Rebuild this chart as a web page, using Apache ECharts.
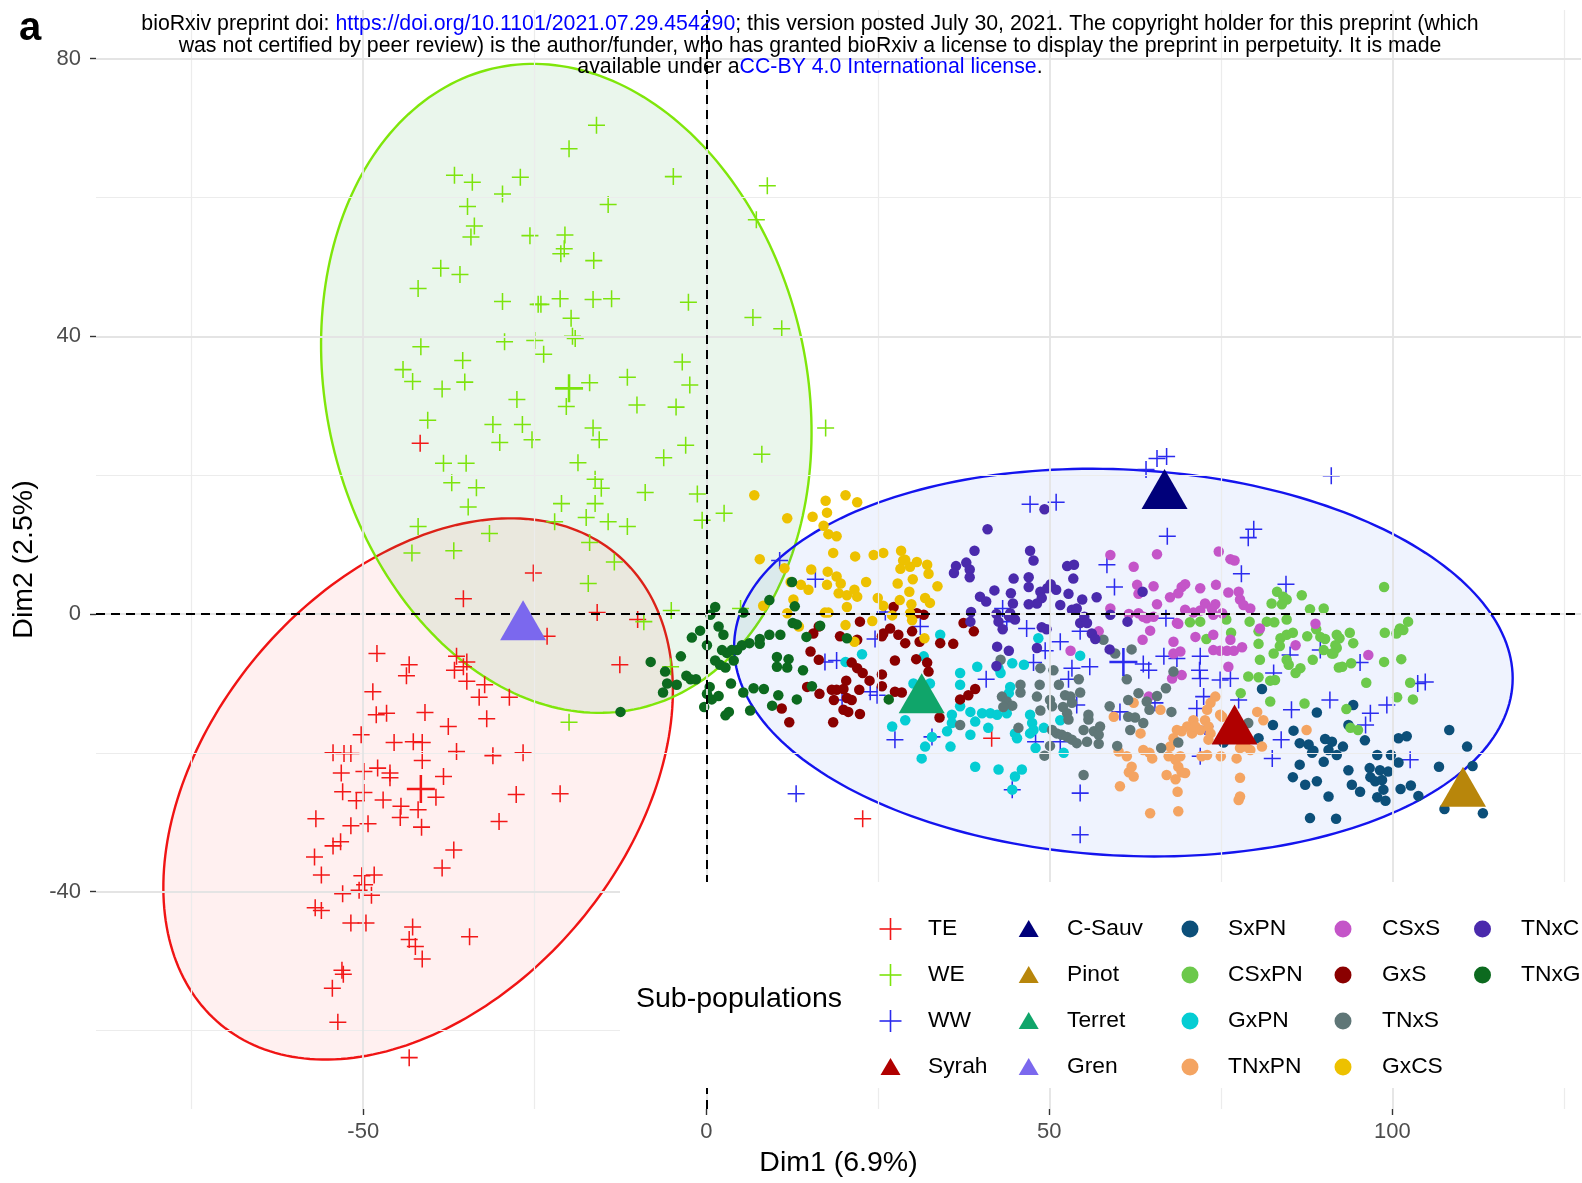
<!DOCTYPE html>
<html>
<head>
<meta charset="utf-8">
<title>PCA sub-populations</title>
<script src="https://cdn.jsdelivr.net/npm/echarts@6/dist/echarts.min.js"></script>
<style>
  html, body { margin: 0; padding: 0; background: #ffffff; }
  #chart { width: 1582px; height: 1183px; }
</style>
</head>
<body>
<div id="chart"></div>
<script>
// ---- tick values ----
const xTicks = [-50, 0, 50, 100];
const yTicks = [-40, 0, 40, 80];
const xGridMajor = [-50, 0, 50, 100];
const xGridMinor = [-75, -25, 25, 75, 125];
const yGridMajor = [-40, 0, 40, 80];
const yGridMinor = [-60, -20, 20, 60];

// ---- individuals: [Dim1, Dim2] ----
const TE = [[-41.7,24.6],[-25.2,5.9],[-35.4,2.2],[-15.9,0.2],[-10.0,-0.8],[-23.2,-3.2],[-12.6,-7.3],[-48.0,-5.7],[-43.3,-7.3],[-43.7,-8.9],[-36.4,-6.1],[-34.9,-6.9],[-36.7,-8.1],[-35.4,-7.6],[-34.9,-9.7],[-32.3,-10.2],[-33.1,-12.0],[-28.7,-12.0],[-48.6,-11.2],[-48.1,-14.5],[-46.6,-14.3],[-41.0,-14.2],[-37.6,-16.2],[-32.0,-15.1],[-50.3,-17.4],[-45.5,-18.5],[-42.7,-18.4],[-41.4,-18.5],[-54.4,-20.0],[-52.8,-20.1],[-51.8,-20.1],[-36.4,-19.8],[-31.1,-20.4],[-26.7,-20.0],[-41.4,-21.1],[-53.2,-22.9],[-49.9,-22.7],[-47.9,-22.2],[-46.1,-22.9],[-46.1,-23.6],[-38.3,-23.4],[-53.0,-25.6],[-49.9,-25.7],[-51.0,-26.9],[-47.1,-26.8],[-44.5,-27.7],[-39.4,-26.4],[-27.7,-26.0],[-21.3,-25.9],[-44.6,-29.3],[-42.0,-28.2],[-56.9,-29.5],[-51.8,-30.5],[-49.3,-30.2],[-41.5,-30.7],[-30.2,-29.9],[-53.3,-32.8],[-54.4,-33.4],[-36.8,-34.0],[-57.1,-35.0],[-38.5,-36.6],[-56.1,-37.6],[-50.2,-37.7],[-48.4,-37.6],[-49.8,-39.0],[-50.6,-39.8],[-48.8,-40.5],[-53.0,-40.3],[-57.0,-42.3],[-56.1,-42.7],[-51.8,-44.5],[-49.6,-44.5],[-42.8,-45.1],[-34.5,-46.5],[-43.3,-46.9],[-42.4,-47.9],[-41.4,-49.7],[-53.1,-51.3],[-52.9,-51.9],[-54.5,-53.9],[-53.7,-58.8],[-43.3,-63.9],[41.6,-17.9],[22.8,-29.5]];
const WE = [[-16.0,70.4],[-20.0,67.0],[-36.7,63.2],[-34.1,62.2],[-27.1,62.9],[-29.7,60.5],[-4.8,63.0],[8.9,61.7],[-34.8,58.7],[-14.3,59.0],[7.3,56.8],[-33.8,55.9],[-34.3,54.3],[-25.7,54.5],[-20.6,54.6],[-20.7,52.6],[-21.2,51.9],[-16.4,50.9],[-38.7,49.8],[-35.9,48.9],[-42.0,46.9],[-29.7,45.0],[-24.5,44.6],[-24.1,44.6],[-21.3,45.4],[-16.5,45.3],[-13.8,45.4],[-2.6,44.9],[6.8,42.7],[11.0,41.1],[-19.7,42.6],[-19.5,40.0],[-19.1,39.7],[-41.6,38.5],[-29.4,39.2],[-25.0,39.4],[-23.7,37.4],[-35.5,36.5],[-44.2,35.2],[-42.8,33.5],[-35.2,33.4],[-38.5,32.4],[-17.0,33.3],[-11.5,34.1],[-3.5,36.3],[-2.4,33.0],[-27.6,30.9],[-20.4,29.9],[-10.1,30.1],[-4.4,29.8],[-40.6,27.9],[-31.1,27.3],[-26.8,27.3],[-16.5,26.8],[17.4,26.8],[-30.1,24.7],[-25.4,25.1],[-15.6,25.1],[-3.0,24.3],[-38.3,21.7],[-35.0,21.7],[-18.7,21.8],[-6.2,22.5],[-37.1,18.9],[-33.5,18.2],[-16.2,19.4],[-15.3,18.1],[-8.9,17.5],[-1.3,17.3],[-34.7,15.4],[-21.1,15.9],[-16.2,15.9],[-17.5,13.9],[-14.3,13.3],[-11.5,12.6],[-22.1,13.3],[-42.0,12.6],[-31.6,11.6],[-17.0,10.3],[-42.9,8.8],[-36.8,9.1],[-13.4,7.5],[-17.2,4.4],[-5.1,0.5],[-9.1,-1.1],[-20.0,-15.6],[-5.2,-7.6],[-0.6,13.5],[2.6,14.5],[5.0,0.8],[8.1,23.0]];
const WW = [[10.7,7.7],[15.9,5.0],[17.3,-6.9],[19.0,-6.7],[24.6,-3.6],[26.1,0.3],[31.2,-1.8],[23.9,-11.2],[24.9,-11.7],[19.8,-12.4],[27.5,-18.1],[32.9,-17.7],[40.8,-9.4],[64.1,20.8],[65.7,22.4],[67.1,22.7],[47.2,15.8],[51.0,16.1],[67.2,11.2],[79.8,12.2],[79.0,11.0],[78.0,5.8],[58.4,7.1],[59.5,3.9],[43.2,0.8],[43.8,-1.1],[46.7,-2.1],[51.6,-4.0],[49.4,-5.3],[54.5,-2.5],[67.0,-0.6],[47.7,-7.0],[53.3,-7.8],[55.9,-7.6],[52.8,-9.4],[63.7,-7.2],[64.5,-8.1],[66.7,-6.1],[68.6,-6.4],[72.0,-6.1],[71.9,-8.1],[72.0,-9.3],[74.9,-9.5],[76.4,-9.3],[72.5,-11.9],[54.0,-13.1],[51.6,-18.4],[48.0,-18.4],[44.6,-25.3],[54.5,-25.8],[54.5,-31.8],[60.3,-14.1],[71.5,-13.6],[72.7,-16.2],[72.0,-20.5],[82.5,-20.8],[82.7,-8.5],[65.4,-12.8],[91.1,19.9],[84.5,4.3],[89.5,-5.2],[85.1,-5.9],[95.3,-7.0],[103.7,-10.0],[104.8,-9.8],[90.9,-12.4],[99.2,-13.1],[96.8,-14.3],[96.1,-16.0],[83.8,-18.1],[102.6,-21.0],[13.1,-25.9],[77.6,-12.4],[85.3,-13.8]];

// group means (larger markers)
const TE_mean = [[-41.6,-25.2]];
const WE_mean = [[-20.0,32.5]];
const WW_mean = [[60.8,-6.9]];

// ---- reference varieties ----
const CSauv = [[66.8,18.0]];
const Pinot = [[110.3,-24.9]];
const Terret = [[31.4,-11.4]];
const Syrah = [[77.0,-15.9]];
const Gren = [[-26.7,-0.9]];

// ---- progenies ----
const SxPN = [[81.0,-10.8],[89.0,-14.2],[94.3,-13.1],[82.6,-16.0],[80.5,-17.9],[75.4,-18.5],[85.6,-16.8],[86.5,-18.6],[87.8,-18.8],[88.5,-19.7],[88.3,-20.0],[90.2,-18.0],[91.2,-18.4],[90.7,-19.6],[91.9,-20.3],[92.8,-19.1],[93.6,-16.0],[96.0,-18.2],[90.0,-21.3],[86.5,-21.7],[85.5,-23.5],[87.3,-24.6],[89.0,-24.1],[90.7,-26.3],[93.6,-22.5],[97.8,-20.3],[99.8,-20.3],[100.9,-21.4],[96.7,-22.2],[98.2,-22.5],[99.4,-22.7],[96.8,-23.5],[97.5,-24.1],[98.5,-23.9],[94.1,-24.6],[95.3,-25.6],[98.7,-25.3],[97.8,-26.4],[99.0,-26.9],[101.2,-25.2],[102.7,-24.7],[103.8,-26.2],[100.9,-17.9],[102.1,-17.6],[106.8,-22.0],[108.3,-16.7],[110.9,-19.1],[111.7,-21.9],[107.6,-28.1],[113.2,-28.7],[88.0,-29.4],[91.8,-29.5]];
const CSxPN = [[98.8,3.9],[83.2,3.2],[84.1,2.5],[84.6,2.1],[83.9,1.4],[86.8,2.7],[88.0,0.7],[90.0,0.8],[75.8,-0.8],[79.2,-1.1],[82.8,-1.2],[84.6,-0.8],[72.0,-1.1],[76.5,-2.7],[72.9,-3.6],[83.7,-3.5],[84.6,-3.0],[85.5,-2.7],[83.6,-4.6],[80.5,-4.3],[87.6,-3.2],[88.9,-2.2],[89.5,-3.3],[90.2,-3.6],[91.9,-3.0],[92.3,-3.5],[91.7,-4.5],[91.9,-4.9],[91.4,-5.7],[93.8,-2.7],[94.3,-4.2],[98.9,-2.7],[100.6,-2.8],[101.1,-2.1],[101.6,-2.3],[102.3,-1.1],[90.0,-5.2],[91.2,-5.7],[80.7,-6.6],[82.7,-5.7],[84.6,-6.6],[84.9,-7.3],[88.4,-6.6],[92.2,-7.7],[92.7,-7.6],[94.0,-7.1],[86.6,-7.8],[85.9,-8.5],[98.8,-6.9],[101.3,-6.5],[79.0,-9.0],[80.5,-9.1],[82.2,-9.6],[82.9,-9.5],[96.2,-9.9],[102.6,-9.9],[103.0,-12.3],[100.7,-12.0],[77.9,-11.4],[82.2,-12.6],[87.2,-12.9],[93.3,-13.7],[70.5,-1.2],[80.5,-2.5],[81.7,-1.1],[82.4,1.5],[93.9,-16.4],[95.0,-16.7]];
const GxPN = [[34.1,-3.0],[31.7,-6.1],[32.6,-10.0],[37.0,-8.5],[37.0,-10.2],[39.5,-7.6],[38.5,-14.1],[39.2,-15.5],[40.2,-14.3],[41.4,-14.3],[42.4,-14.5],[41.1,-16.4],[37.0,-13.3],[35.8,-14.5],[35.8,-15.7],[35.1,-16.9],[32.9,-17.7],[31.9,-19.1],[31.4,-20.8],[29.0,-15.3],[27.1,-16.2],[35.6,-19.1],[38.5,-17.4],[39.2,-22.0],[42.6,-22.4],[45.0,-23.4],[46.0,-22.4],[44.6,-25.3],[44.6,-7.1],[46.3,-7.3],[44.3,-10.5],[44.1,-11.4],[43.8,-14.3],[47.2,-14.5],[47.5,-15.7],[47.7,-16.7],[47.2,-17.2],[45.3,-17.9],[45.0,-17.2],[48.0,-19.3],[52.1,-20.0],[51.6,-15.3],[49.2,-16.4],[54.5,-6.0],[48.4,-3.5],[42.6,-7.8],[42.9,-8.5],[22.7,-5.8],[20.3,-6.9],[30.2,-10.0]];
const TNxPN = [[74.2,-11.9],[73.5,-12.8],[73.0,-13.8],[74.9,-14.5],[72.7,-15.3],[66.2,-13.8],[62.3,-12.8],[59.4,-14.8],[63.3,-17.2],[71.0,-15.3],[70.1,-16.2],[69.3,-16.9],[68.6,-16.7],[68.1,-17.9],[67.6,-19.1],[70.8,-17.2],[71.3,-16.2],[73.2,-16.2],[73.5,-17.2],[73.2,-18.1],[75.2,-14.8],[76.6,-15.8],[60.1,-19.8],[61.3,-20.5],[63.7,-19.6],[64.6,-20.0],[65.0,-20.8],[62.0,-22.0],[61.6,-22.8],[62.3,-23.4],[60.3,-24.8],[67.4,-20.5],[68.4,-21.0],[69.1,-20.5],[68.8,-22.0],[69.3,-22.8],[69.8,-22.9],[67.1,-23.2],[68.4,-23.8],[68.7,-25.6],[64.7,-28.7],[68.8,-28.4],[72.2,-20.5],[73.0,-20.3],[75.0,-20.5],[77.3,-20.8],[77.8,-23.6],[77.8,-26.3],[77.6,-26.8],[80.3,-14.1],[81.2,-15.3],[81.0,-19.1],[79.3,-19.6],[78.6,-19.1],[77.8,-19.3],[72.0,-16.7],[87.5,-16.7]];
const CSxS = [[58.9,8.5],[62.3,6.8],[65.7,8.6],[74.7,9.0],[76.4,7.9],[77.0,7.7],[62.8,4.2],[63.0,2.9],[65.2,4.0],[67.6,2.4],[65.7,1.4],[69.3,3.9],[69.8,4.3],[68.8,3.0],[72.0,3.7],[74.3,4.2],[76.1,3.1],[77.6,3.2],[77.8,2.1],[78.3,1.3],[79.3,0.8],[58.9,0.8],[61.6,0.0],[63.0,0.1],[63.7,-0.4],[64.2,-0.6],[65.2,-0.4],[69.8,0.6],[71.0,0.2],[72.0,0.5],[72.7,1.5],[73.7,0.8],[74.2,1.4],[73.9,-0.1],[75.2,0.1],[68.6,-1.3],[64.7,-2.4],[63.6,-3.7],[57.2,-2.5],[53.1,-5.3],[71.3,-3.3],[73.9,-3.0],[76.4,-3.7],[75.9,-5.3],[73.9,-5.2],[74.9,-5.3],[76.9,-5.3],[78.1,-4.8],[80.7,-2.1],[68.1,-4.0],[69.1,-5.4],[68.1,-5.7],[69.3,-8.8],[67.9,-9.3],[76.1,-7.6],[88.8,-1.4],[85.9,-4.5],[96.5,-5.9],[68.8,-1.4],[64.5,-11.9]];
const GxS = [[27.3,1.0],[31.7,-0.1],[30.7,0.1],[22.4,-1.1],[26.8,-2.1],[28.0,-3.0],[29.0,-4.2],[30.0,-2.5],[31.1,-4.0],[25.6,-3.2],[19.5,-3.2],[22.0,-3.7],[15.6,-2.8],[16.4,-1.8],[15.2,-5.4],[16.4,-6.6],[34.1,-4.2],[36.0,-4.3],[27.5,-6.7],[30.6,-6.5],[32.2,-7.0],[32.4,-8.3],[21.2,-7.0],[22.0,-7.8],[22.8,-8.5],[25.6,-8.7],[25.6,-10.4],[23.8,-9.6],[20.4,-9.6],[20.0,-10.8],[19.0,-10.9],[18.3,-10.9],[20.5,-12.1],[21.2,-12.4],[22.3,-10.9],[14.7,-10.5],[16.5,-11.5],[18.6,-12.4],[20.0,-13.8],[20.7,-14.1],[22.4,-14.4],[11.0,-13.6],[12.1,-15.6],[18.5,-15.6],[27.5,-11.2],[28.5,-11.3],[34.0,-14.9],[37.5,-1.3],[39.0,-2.5],[37.0,-12.3],[38.2,-11.7],[39.2,-10.8],[25.8,-2.8]];
const TNxS = [[42.9,-6.6],[43.1,-11.9],[43.8,-12.6],[44.6,-13.2],[43.3,-13.4],[45.8,-10.2],[45.8,-11.3],[37.0,-16.0],[45.5,-16.4],[48.7,-7.8],[50.6,-8.1],[48.6,-10.2],[48.2,-11.9],[48.7,-13.9],[50.1,-12.4],[50.4,-13.3],[51.4,-10.2],[52.3,-11.7],[53.1,-11.9],[53.3,-12.8],[52.0,-13.4],[52.6,-14.3],[54.3,-9.4],[54.5,-11.3],[52.8,-15.2],[50.4,-16.7],[51.1,-17.2],[51.8,-17.4],[52.6,-17.7],[53.3,-18.1],[54.0,-18.6],[50.1,-19.0],[49.3,-20.4],[55.7,-14.5],[55.7,-15.2],[55.0,-16.7],[56.5,-16.9],[57.2,-17.4],[57.4,-16.2],[55.5,-18.4],[57.2,-18.7],[55.0,-23.2],[58.8,-13.3],[59.9,-19.0],[61.3,-9.4],[61.5,-12.4],[63.0,-11.4],[61.5,-14.8],[62.5,-14.9],[63.7,-15.7],[61.8,-16.7],[64.2,-12.6],[64.6,-13.8],[65.7,-11.8],[67.0,-10.7],[68.1,-8.3],[67.8,-14.1],[66.3,-19.3],[68.8,-18.5],[57.9,-3.7],[59.6,-5.7],[62.0,-5.1],[79.0,-15.7]];
const GxCS = [[7.0,17.1],[11.8,13.8],[15.5,14.0],[17.4,16.3],[17.6,14.6],[20.3,17.1],[22.0,16.1],[17.1,12.7],[17.8,11.5],[19.0,11.2],[7.8,7.9],[11.4,6.6],[18.5,8.8],[21.7,8.3],[24.4,8.5],[25.8,8.8],[28.4,9.1],[28.7,7.7],[29.7,6.8],[30.7,7.5],[32.2,7.1],[32.4,5.8],[28.3,6.5],[15.3,6.4],[17.7,6.1],[12.3,4.6],[13.8,4.2],[14.9,3.5],[17.6,4.2],[19.0,5.4],[19.6,4.4],[19.3,3.0],[20.5,2.7],[22.0,2.5],[21.6,3.5],[23.3,4.6],[27.9,4.4],[30.1,5.0],[29.6,3.2],[28.2,2.0],[29.9,1.4],[31.9,2.3],[32.6,1.6],[33.7,4.0],[25.0,2.3],[25.8,1.2],[20.5,1.0],[12.7,2.1],[8.3,1.2],[17.3,0.2],[17.8,0.2],[11.8,0.1],[24.2,-1.0],[27.1,-0.2],[29.7,0.1],[30.0,-0.9],[31.8,-3.5],[20.3,-1.6],[21.6,-4.0],[13.5,-1.8],[29.0,7.8]];
const TNxC = [[49.3,15.1],[41.0,12.2],[39.1,9.1],[36.4,6.9],[37.9,7.4],[38.4,6.4],[36.1,5.9],[38.4,5.3],[47.2,9.1],[47.7,7.7],[52.6,6.9],[53.6,7.1],[53.5,5.1],[44.8,5.1],[47.0,5.3],[47.0,3.9],[42.0,3.4],[39.9,2.5],[40.8,1.8],[44.4,3.0],[44.7,1.5],[44.3,0.1],[48.7,3.2],[49.7,3.7],[50.2,4.3],[51.0,3.5],[48.9,2.3],[48.2,1.5],[47.0,1.4],[51.6,1.3],[52.8,2.9],[53.3,0.6],[54.0,0.8],[54.8,2.1],[56.9,2.4],[42.3,0.0],[42.6,-1.1],[43.2,-2.2],[44.1,-0.3],[45.0,-0.8],[38.6,0.3],[38.5,-1.1],[48.9,-1.9],[49.6,-2.2],[54.5,-1.3],[55.1,-0.4],[55.5,-1.3],[56.2,-2.8],[56.7,-3.6],[58.9,-0.1],[61.4,-1.1],[63.6,3.2],[58.8,-5.1],[42.4,-4.7],[44.1,-5.3],[48.2,-4.9],[42.3,-7.5]];
const TNxG = [[1.3,1.0],[0.6,-0.1],[5.4,0.2],[9.2,2.0],[12.5,4.6],[12.9,1.1],[12.6,-1.3],[13.2,-1.5],[16.6,-1.7],[14.6,-3.3],[20.5,-3.5],[9.2,-3.0],[10.8,-3.0],[7.8,-3.6],[7.8,-4.3],[6.3,-4.2],[5.2,-4.5],[4.5,-5.2],[3.7,-5.2],[3.0,-5.6],[2.3,-5.2],[1.8,-1.8],[2.5,-3.0],[0.1,-4.5],[-0.9,-2.4],[-2.1,-3.4],[1.3,-6.7],[2.0,-7.3],[2.8,-7.7],[4.0,-6.7],[10.3,-6.2],[10.3,-7.6],[12.0,-6.5],[11.8,-7.7],[14.1,-8.1],[-3.7,-6.1],[-6.0,-8.3],[-5.7,-10.0],[-6.3,-11.3],[-8.1,-6.9],[-4.3,-10.2],[-2.9,-8.9],[-2.3,-9.4],[-1.5,-9.4],[0.5,-10.5],[0.1,-11.5],[0.8,-12.3],[1.8,-11.8],[3.6,-10.0],[5.4,-11.3],[6.9,-10.7],[8.4,-10.8],[10.5,-11.7],[13.2,-12.3],[15.4,-10.4],[-0.3,-13.4],[3.3,-14.1],[2.8,-14.6],[6.4,-13.9],[9.6,-13.2],[-12.5,-14.1],[26.6,-12.3]];

// ---- concentration ellipses: [centre Dim1, centre Dim2, semi-major, semi-minor, angle deg] ----
const ellipseTE = [-42.0, -25.2, 44.5, 30.3, 48.8];
const ellipseWE = [-20.4, 32.5, 47.3, 35.0, 103.2];
const ellipseWW = [60.8, -7.0, 56.8, 27.8, -3.0];

// ---- legend layout (column-major) ----
const legendColumns = [
  ['TE', 'WE', 'WW', 'Syrah'],
  ['C-Sauv', 'Pinot', 'Terret', 'Gren'],
  ['SxPN', 'CSxPN', 'GxPN', 'TNxPN'],
  ['CSxS', 'GxS', 'TNxS', 'GxCS'],
  ['TNxC', 'TNxG']
];

// ---- styling ----
const FONT = '"Liberation Sans", Arial, Helvetica, sans-serif';
const CROSS = 'path://M45.5,0H54.5V100H45.5ZM0,45.5H100V54.5H0Z';
const colors = {
  TE: '#F21818', WE: '#7CE40C', WW: '#2B2BEE',
  Syrah: '#B00000', 'C-Sauv': '#00007A', Pinot: '#B8860B', Terret: '#10A56A', Gren: '#7B68EE',
  SxPN: '#0C4F79', CSxPN: '#6CC94B', GxPN: '#05CDD3', TNxPN: '#F4A462',
  CSxS: '#C455C8', GxS: '#8A0000', TNxS: '#5F7677', GxCS: '#EDC100',
  TNxC: '#4A2AAC', TNxG: '#0C6A1F'
};
const kinds = {
  TE: 'cross', WE: 'cross', WW: 'cross',
  Syrah: 'tri', 'C-Sauv': 'tri', Pinot: 'tri', Terret: 'tri', Gren: 'tri'
};
const ellipseStyle = {
  TE: { stroke: '#F01414', fill: 'rgba(255,0,0,0.06)' },
  WE: { stroke: '#7FE60A', fill: 'rgba(50,170,70,0.10)' },
  WW: { stroke: '#1414EE', fill: 'rgba(30,80,235,0.07)' }
};

const pointGroups = [
  ['TE', TE], ['WE', WE], ['WW', WW],
  ['SxPN', SxPN], ['CSxPN', CSxPN], ['GxPN', GxPN], ['TNxPN', TNxPN],
  ['CSxS', CSxS], ['GxS', GxS], ['TNxS', TNxS], ['GxCS', GxCS],
  ['TNxC', TNxC], ['TNxG', TNxG]
];
const meanGroups = [['TE', TE_mean], ['WE', WE_mean], ['WW', WW_mean]];
const refGroups = [['C-Sauv', CSauv], ['Pinot', Pinot], ['Terret', Terret], ['Syrah', Syrah], ['Gren', Gren]];

const series = [];

// background grid lines (major thicker than minor)
const majorLine = { color: '#E4E4E4', width: 1.8, type: 'solid' };
const minorLine = { color: '#ECECEC', width: 1.2, type: 'solid' };
series.push({
  type: 'scatter', data: [], z: 0, silent: true,
  markLine: {
    silent: true, symbol: ['none', 'none'], animation: false,
    label: { show: false },
    data: []
      .concat(xGridMinor.map(v => ({ xAxis: v, lineStyle: minorLine })))
      .concat(yGridMinor.map(v => ({ yAxis: v, lineStyle: minorLine })))
      .concat(xGridMajor.map(v => ({ xAxis: v, lineStyle: majorLine })))
      .concat(yGridMajor.map(v => ({ yAxis: v, lineStyle: majorLine })))
  }
});

// ellipses
const ellipseEntries = [['TE', ellipseTE], ['WE', ellipseWE], ['WW', ellipseWW]];
series.push({
  type: 'custom', z: 1, silent: true, clip: false,
  coordinateSystem: 'cartesian2d',
  encode: { x: 0, y: 1 },
  data: ellipseEntries.map(e => e[1]),
  renderItem: function (params, api) {
    const cx = api.value(0), cy = api.value(1), a = api.value(2), b = api.value(3);
    const th = api.value(4) * Math.PI / 180;
    const c = Math.cos(th), s = Math.sin(th);
    const pts = [];
    for (let k = 0; k < 240; k++) {
      const t = k / 240 * 2 * Math.PI;
      const u = a * Math.cos(t), v = b * Math.sin(t);
      pts.push(api.coord([cx + u * c - v * s, cy + u * s + v * c]));
    }
    const st = ellipseStyle[ellipseEntries[params.dataIndex][0]];
    return { type: 'polygon', shape: { points: pts }, style: { fill: st.fill, stroke: st.stroke, lineWidth: 2.4 } };
  }
});

// dashed zero lines
series.push({
  type: 'scatter', data: [], z: 3, silent: true,
  markLine: {
    silent: true, symbol: ['none', 'none'], animation: false,
    label: { show: false },
    lineStyle: { color: '#000000', width: 2, type: [9, 6] },
    data: [{ xAxis: 0 }, { yAxis: 0 }]
  }
});

// individuals
pointGroups.forEach(([name, data]) => {
  const cross = kinds[name] === 'cross';
  series.push({
    type: 'scatter', name: name, data: data, z: 4, silent: true,
    symbol: cross ? CROSS : 'circle',
    symbolSize: cross ? 17 : 10.5,
    itemStyle: { color: colors[name], opacity: 1 }
  });
});
meanGroups.forEach(([name, data]) => {
  series.push({
    type: 'scatter', name: name + ' mean', data: data, z: 5, silent: true,
    symbol: CROSS, symbolSize: 28,
    itemStyle: { color: colors[name], opacity: 1 }
  });
});
refGroups.forEach(([name, data]) => {
  series.push({
    type: 'scatter', name: name, data: data, z: 6, silent: true,
    symbol: 'triangle', symbolSize: [46, 40],
    itemStyle: { color: colors[name], opacity: 1 }
  });
});

// legend and header, drawn as graphic elements
const graphic = [];
graphic.push({ type: 'rect', z: 20, silent: true, shape: { x: 620, y: 882, width: 970, height: 206 }, style: { fill: '#ffffff' } });
graphic.push({ type: 'text', z: 21, x: 636, y: 999, style: { text: 'Sub-populations', font: '28.5px ' + FONT, fill: '#000', verticalAlign: 'middle', align: 'left' } });
const symX = [890.5, 1028.7, 1190, 1343, 1482.5];
const txtX = [928, 1067, 1228, 1382, 1521];
const rowY = [929, 975, 1021, 1067];
legendColumns.forEach((col, ci) => {
  col.forEach((name, ri) => {
    const x = symX[ci], y = rowY[ri], col_ = colors[name];
    const kind = kinds[name] || 'dot';
    if (kind === 'cross') {
      graphic.push({ type: 'rect', z: 21, shape: { x: x - 0.8, y: y - 11, width: 1.6, height: 22 }, style: { fill: col_ } });
      graphic.push({ type: 'rect', z: 21, shape: { x: x - 11, y: y - 0.8, width: 22, height: 1.6 }, style: { fill: col_ } });
    } else if (kind === 'tri') {
      graphic.push({ type: 'polygon', z: 21, shape: { points: [[x, y - 9], [x + 10, y + 8], [x - 10, y + 8]] }, style: { fill: col_ } });
    } else {
      graphic.push({ type: 'circle', z: 21, shape: { cx: x, cy: y, r: 8.5 }, style: { fill: col_ } });
    }
    graphic.push({ type: 'text', z: 21, x: txtX[ci], y: y, style: { text: name, font: '22.8px ' + FONT, fill: '#000', verticalAlign: 'middle', align: 'left' } });
  });
});

const headFont = '21.3px ' + FONT;
graphic.push({
  type: 'text', z: 30, x: 810, y: 24,
  style: {
    text: '{k|bioRxiv preprint doi: }{u|https://doi.org/10.1101/2021.07.29.454290}{k|; this version posted July 30, 2021. The copyright holder for this preprint (which}',
    align: 'center', verticalAlign: 'middle',
    rich: { k: { font: headFont, fill: '#000' }, u: { font: headFont, fill: '#0000FF' } }
  }
});
graphic.push({
  type: 'text', z: 30, x: 810, y: 46,
  style: { text: 'was not certified by peer review) is the author/funder, who has granted bioRxiv a license to display the preprint in perpetuity. It is made', font: headFont, fill: '#000', align: 'center', verticalAlign: 'middle' }
});
graphic.push({
  type: 'text', z: 30, x: 810, y: 67.5,
  style: {
    text: '{k|available under a}{u|CC-BY 4.0 International license}{k|.}',
    align: 'center', verticalAlign: 'middle',
    rich: { k: { font: headFont, fill: '#000' }, u: { font: headFont, fill: '#0000FF' } }
  }
});
graphic.push({ type: 'text', z: 30, x: 19, y: 29, style: { text: 'a', font: 'bold 40px ' + FONT, fill: '#000', verticalAlign: 'middle', align: 'left' } });

const chart = echarts.init(document.getElementById('chart'), null, { renderer: 'canvas' });
chart.setOption({
  animation: false,
  backgroundColor: '#ffffff',
  grid: { left: 96, right: 1, top: 10, bottom: 73.4, containLabel: false },
  xAxis: {
    type: 'value', min: -88.95, max: 127.5,
    name: 'Dim1 (6.9%)', nameLocation: 'middle', nameGap: 40,
    nameTextStyle: { fontFamily: FONT, fontSize: 28.5, color: '#000' },
    axisLine: { show: true, onZero: false, lineStyle: { color: 'rgba(0,0,0,0)' } },
    splitLine: { show: false },
    axisTick: { show: true, inside: false, length: 6, customValues: xTicks, lineStyle: { color: '#333333', width: 1.4 } },
    axisLabel: { customValues: xTicks, margin: 12, fontFamily: FONT, fontSize: 22, color: '#4D4D4D' }
  },
  yAxis: {
    type: 'value', min: -71.3, max: 87.0,
    name: 'Dim2 (2.5%)', nameLocation: 'middle', nameGap: 55, nameRotate: 90,
    nameTextStyle: { fontFamily: FONT, fontSize: 28.5, color: '#000' },
    axisLine: { show: true, onZero: false, lineStyle: { color: 'rgba(0,0,0,0)' } },
    splitLine: { show: false },
    axisTick: { show: true, inside: false, length: 6, customValues: yTicks, lineStyle: { color: '#333333', width: 1.4 } },
    axisLabel: { customValues: yTicks, margin: 15, fontFamily: FONT, fontSize: 22, color: '#4D4D4D' }
  },
  series: series,
  graphic: graphic
});
</script>
</body>
</html>
